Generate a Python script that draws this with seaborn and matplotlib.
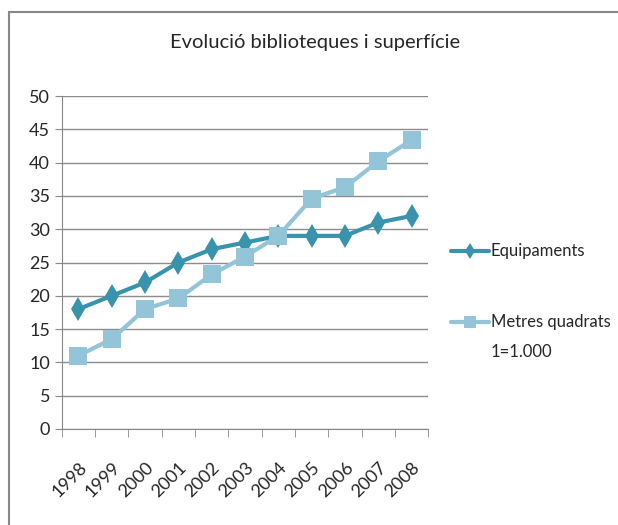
import pandas as pd
import matplotlib.pyplot as plt
import matplotlib.transforms as mtransforms
import seaborn as sns
from matplotlib.patches import Rectangle

# data
years = [1998, 1999, 2000, 2001, 2002, 2003, 2004, 2005, 2006, 2007, 2008]
equipaments = [18, 20, 22, 25, 27, 28, 29, 29, 29, 31, 32]
metres = [11, 13.5, 18, 19.6, 23.2, 25.9, 29, 34.6, 36.3, 40.2, 43.4]

df = pd.DataFrame({'year': years, 'Equipaments': equipaments,
                   'Metres quadrats': metres})
long_df = df.melt(id_vars='year', var_name='serie', value_name='valor')

sns.set_style("white")
plt.rcParams['font.family'] = ['Lato', 'DejaVu Sans']

fig = plt.figure(figsize=(6.18, 5.25), dpi=100)
ax = fig.add_axes([0.100, 0.183, 0.593, 0.634])

sns.lineplot(data=long_df, x='year', y='valor', hue='serie', style='serie',
             palette=['#3a93ac', '#93c4d7'], markers=['d', 's'], dashes=False,
             linewidth=3, markersize=12, markeredgewidth=0, ax=ax)
ax.lines[1].set_markersize(13)

ax.set_xlim(1997.5, 2008.5)
ax.set_ylim(0, 50)
ax.set_yticks(range(0, 51, 5))
ax.set_xticks(years)
ax.set_xticklabels([str(y) for y in years], rotation=45, ha='right',
                   rotation_mode='anchor', fontsize=13)
offset = mtransforms.ScaledTranslation(6 / 100, 0, fig.dpi_scale_trans)
for lbl in ax.get_xticklabels():
    lbl.set_transform(lbl.get_transform() + offset)
ax.set_xticks([y - 0.5 for y in years] + [2008.5], minor=True)
ax.tick_params(axis='x', which='major', length=0, pad=22)
ax.tick_params(axis='x', which='minor', length=6, color='#888888', direction='out', bottom=True)
ax.tick_params(axis='y', length=5, color='#888888', direction='out', left=True, labelsize=13)
ax.yaxis.grid(True, color='#8c8c8c', linewidth=1)
ax.set_axisbelow(True)
for side in ['top', 'right']:
    ax.spines[side].set_visible(False)
for side in ['left', 'bottom']:
    ax.spines[side].set_color('#888888')
ax.set_xlabel('')
ax.set_ylabel('')

fig.suptitle('Evolució biblioteques i superfície', x=0.51, y=0.935, fontsize=14.5)

handles, labels = ax.get_legend_handles_labels()
ax.get_legend().remove()
leg = fig.legend(handles, labels, loc='upper left', bbox_to_anchor=(0.705, 0.565),
                 frameon=False, fontsize=12, labelspacing=3.3, handlelength=2.3,
                 handletextpad=0.1)
for h in leg.legend_handles:
    h.set_markersize(8)
fig.text(0.794, 0.330, '1=1.000', fontsize=12, va='center', ha='left')

# outer chart frame
fig.patches.append(Rectangle((9 / 618, -0.1), 1.2, 1.1 - 12 / 525,
                             transform=fig.transFigure, fill=False,
                             edgecolor='#888888', linewidth=1.5))

fig.savefig('out.png', dpi=100)
